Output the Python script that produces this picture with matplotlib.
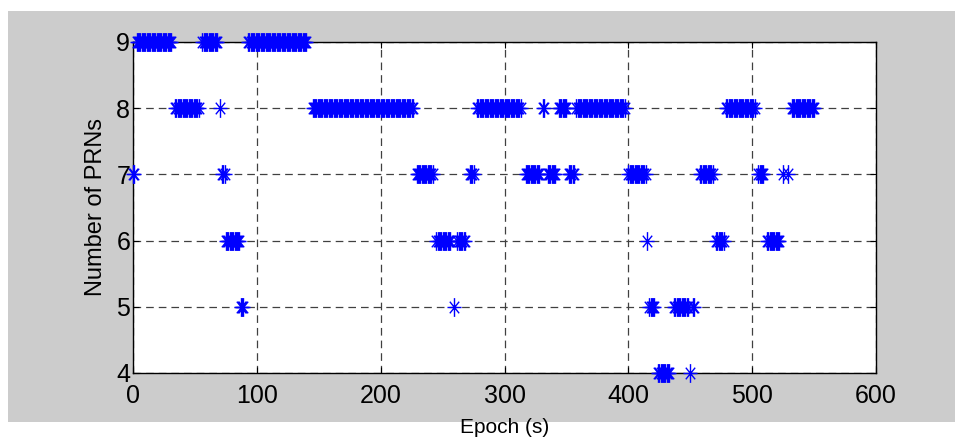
import numpy as np
import matplotlib.pyplot as plt
from matplotlib.path import Path
from matplotlib.patches import Rectangle

plt.rcParams['font.family'] = ['Liberation Sans', 'DejaVu Sans']
plt.rcParams['lines.scale_dashes'] = False

# runs of epochs (s) with the same number of visible PRNs
seg_start = [0, 3, 34, 56, 70, 72, 75, 87, 93, 145, 229, 245, 259, 262, 272, 278,
             317, 331, 335, 344, 352, 358, 400, 415, 417, 424, 437, 450, 452,
             458, 471, 479, 505, 512, 525, 529, 532]
seg_end = [1, 31, 53, 68, 70, 74, 86, 89, 140, 226, 242, 256, 259, 268, 275, 313,
           328, 332, 341, 350, 356, 397, 414, 415, 421, 433, 448, 450, 453,
           468, 477, 502, 509, 522, 525, 529, 550]
seg_prn = [7, 9, 8, 9, 8, 7, 6, 5, 9, 8, 7, 6, 5, 6, 7, 8,
           7, 8, 7, 8, 7, 8, 7, 6, 5, 4, 5, 4, 5,
           7, 6, 8, 7, 6, 7, 7, 8]

epoch = []
nprn = []
for s, e, n in zip(seg_start, seg_end, seg_prn):
    t = np.arange(s, e + 1)
    epoch.extend(t)
    nprn.extend([n] * len(t))

# matlab style asterisk marker
verts = [(0, -1), (0, 1), (-0.75, 0), (0.75, 0),
         (-0.5, -0.62), (0.5, 0.62), (-0.5, 0.62), (0.5, -0.62)]
codes = [Path.MOVETO, Path.LINETO] * 4
star = Path(verts, codes)

fig = plt.figure(figsize=(9.55, 4.41), dpi=100)
fig.patch.set_facecolor('white')
fig.patches.append(Rectangle((8 / 955, 1 - 422 / 441), 947 / 955, 411 / 441,
                             transform=fig.transFigure, facecolor='#cccccc',
                             edgecolor='none', zorder=-10))

ax = fig.add_axes([133 / 955, 1 - 373 / 441, 743 / 955, 331 / 441])
ax.plot(epoch, nprn, linestyle='none', marker=star, ms=13.5, mfc='none',
        mec=(0, 0, 1), mew=1.0, clip_on=False, zorder=3)

ax.set_xlim(0, 600)
ax.set_ylim(4, 9)
ax.set_xticks(np.arange(0, 601, 100))
ax.set_yticks(np.arange(4, 10, 1))
ax.grid(True, color='0.25', linewidth=0.9, linestyle=(0, (5.5, 3.6)))
ax.set_axisbelow(True)
for sp in ax.spines.values():
    sp.set_linewidth(1.0)
ax.tick_params(direction='in', length=4, top=True, right=True, labelsize=18)
ax.tick_params(axis='x', pad=8)
ax.tick_params(axis='y', pad=2)

ax.set_xlabel('Epoch (s)', fontsize=15, labelpad=7)
ax.set_ylabel('Number of PRNs', fontsize=17, labelpad=7)

fig.savefig('out.png', dpi=100)
